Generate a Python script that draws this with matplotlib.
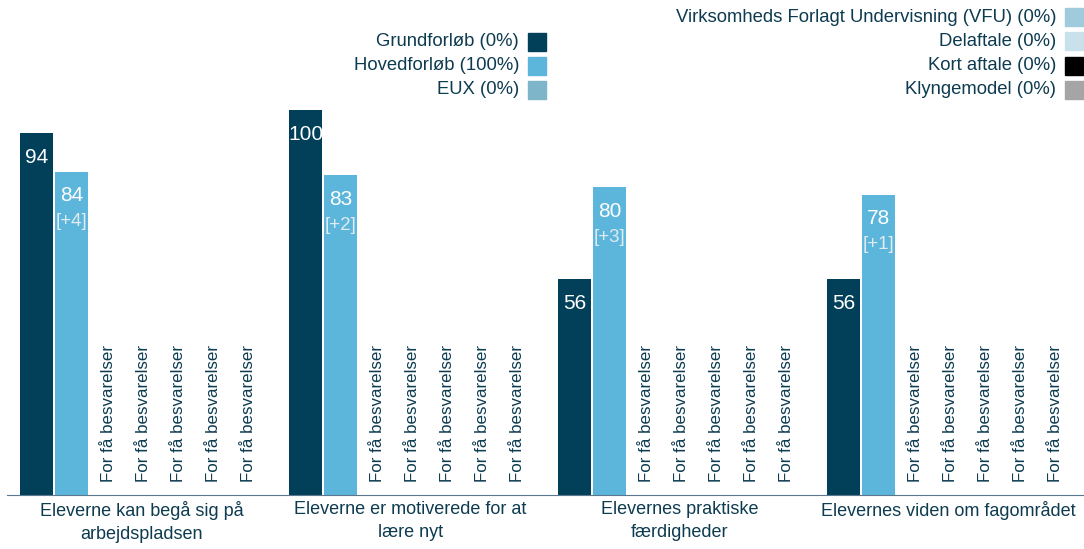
import matplotlib.pyplot as plt
from matplotlib.patches import Rectangle

plt.rcParams['font.family'] = ['Liberation Sans', 'DejaVu Sans']

categories = ["Eleverne kan begå sig på\narbejdspladsen",
              "Eleverne er motiverede for at\nlære nyt",
              "Elevernes praktiske\nfærdigheder",
              "Elevernes viden om fagområdet"]
grundforloeb = [94, 100, 56, 56]
hovedforloeb = [84, 83, 80, 78]
hoved_delta = ["[+4]", "[+2]", "[+3]", "[+1]"]

series_names = ["Grundforløb (0%)", "Hovedforløb (100%)", "EUX (0%)",
                "Virksomheds Forlagt Undervisning (VFU) (0%)", "Delaftale (0%)",
                "Kort aftale (0%)", "Klyngemodel (0%)"]
series_colors = ["#023f59", "#5cb6dc", "#7fb5c9", "#9fcbdc", "#c8e1ea", "#000000", "#a5a5a5"]
few_text = "For få besvarelser"

text_col = "#0d3b50"
W, H = 1084, 549
fig = plt.figure(figsize=(W / 100, H / 100), dpi=100)
ax = fig.add_axes([7.5 / W, (H - 495) / H, (1084 - 7.5) / W, (495 - 110) / H])

group_step = 269 / 35
bar_w = 32.5 / 35
for g in range(len(categories)):
    x0 = g * group_step
    vals = [grundforloeb[g], hovedforloeb[g]]
    for k, v in enumerate(vals):
        xc = x0 + k + 0.5
        ax.bar(xc, v, width=bar_w, color=series_colors[k])
        ax.annotate(str(v), (xc, v), xytext=(0, -10.5), textcoords="offset points",
                    ha="center", va="top", color="white", fontsize=15)
        if k == 1:
            ax.annotate(hoved_delta[g], (xc, v), xytext=(0, -30), textcoords="offset points",
                        ha="center", va="top", color="#e0eaef", fontsize=13.5)
    for k in range(2, 7):
        xc = x0 + k + 0.5
        ax.annotate(few_text, (xc, 0), xytext=(1.2, 9), textcoords="offset points",
                    ha="center", va="bottom", rotation=90, color=text_col, fontsize=12.2)
    ax.text(x0 + 3.5, -0.015, categories[g], transform=ax.get_xaxis_transform(),
            ha="center", va="top", color=text_col, fontsize=13, linespacing=1.45)

ax.set_xlim(0.5 - 29 / 35, 0.5 + (1084 - 36.5) / 35)
ax.set_ylim(0, 100)
for s in ["top", "right", "left"]:
    ax.spines[s].set_visible(False)
ax.spines["bottom"].set_color("#5a7890")
ax.set_xticks([])
ax.set_yticks([])

# legend, drawn by hand in two right-aligned columns
def legend_item(name, color, x_right, y):
    fig.text((x_right - 9) / W, 1 - y / H, name, ha="right", va="center",
             color=text_col, fontsize=13.3)
    fig.patches.append(Rectangle((x_right / W, 1 - (y + 9) / H), 18 / W, 18 / H,
                                 transform=fig.transFigure, color=color, figure=fig))

for i, y in enumerate([42, 66, 90]):
    legend_item(series_names[i], series_colors[i], 528, y)
for i, y in enumerate([17, 41, 66, 90]):
    legend_item(series_names[3 + i], series_colors[3 + i], 1065, y)

fig.savefig("out.png", dpi=100)
